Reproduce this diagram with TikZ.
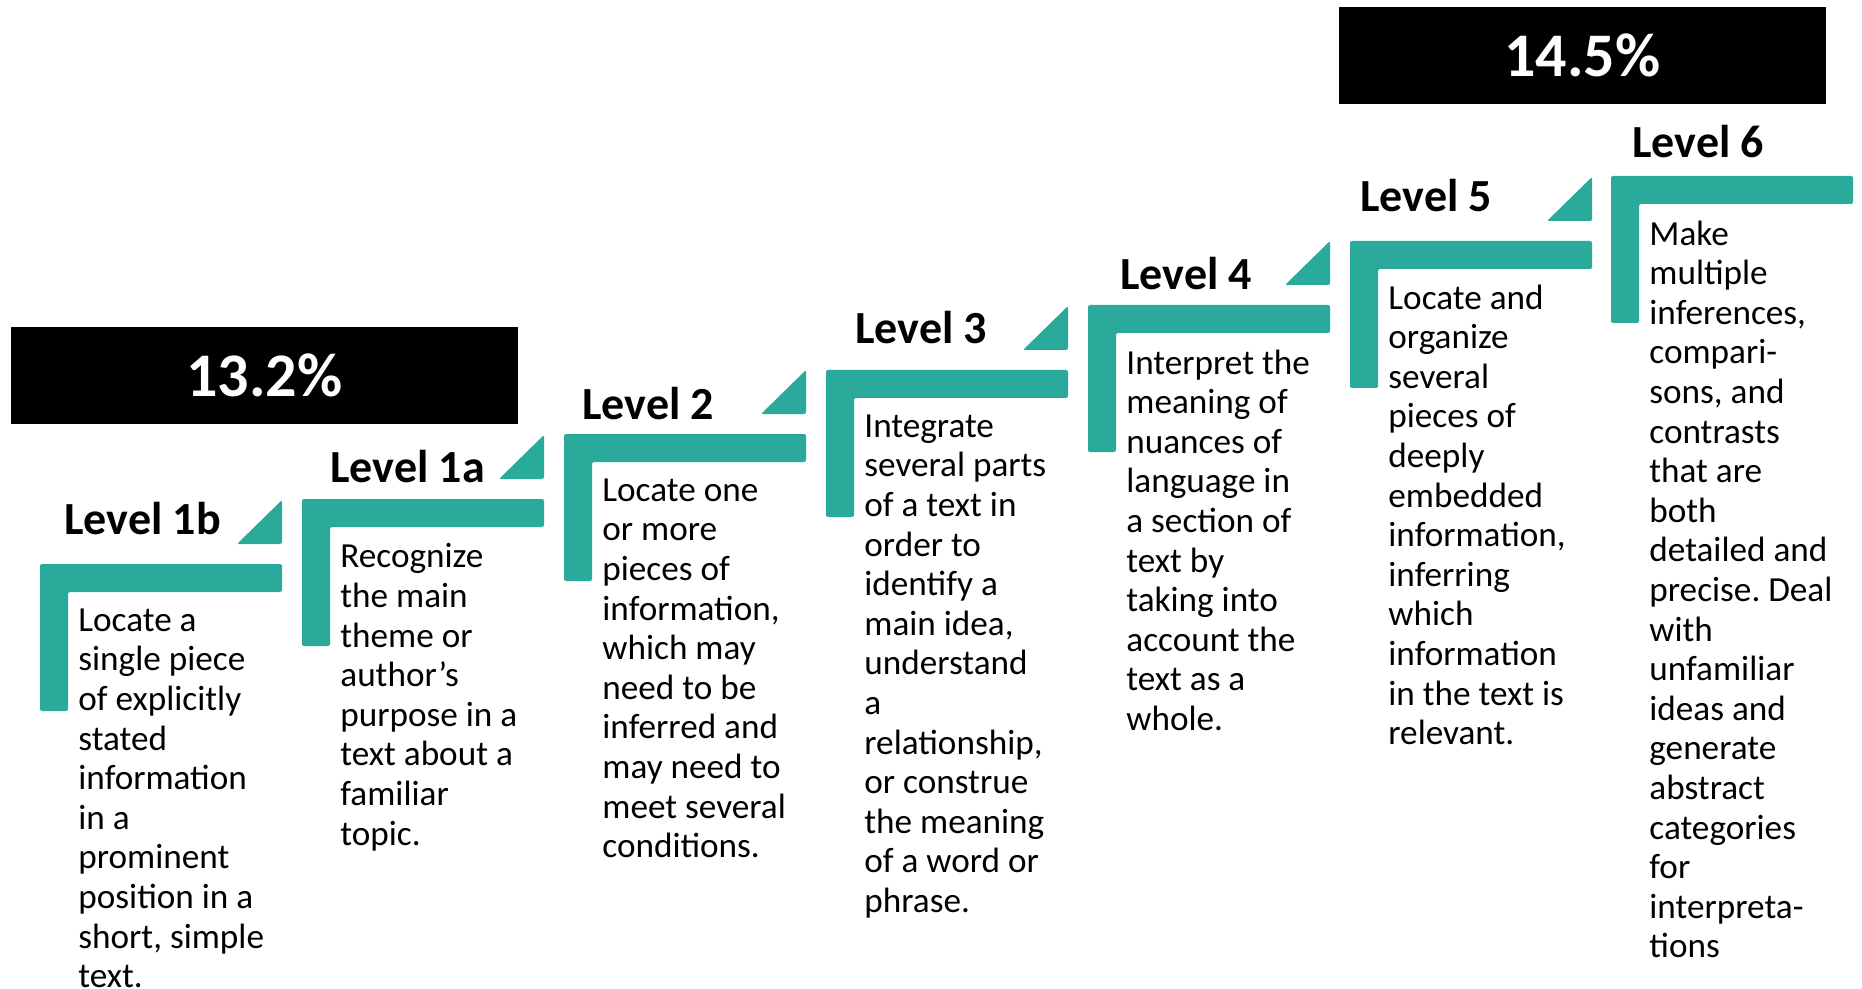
\documentclass[tikz,border=0pt]{standalone}
\usepackage{fontspec}
\setmainfont{Carlito}
\usepackage{tikz}
\frenchspacing
\definecolor{stairteal}{RGB}{42,170,154}
\tikzstyle{stair}=[fill=stairteal,rounded corners=1pt]
\tikzstyle{lvl}=[anchor=base west,inner sep=0pt,font=\bfseries\fontsize{23}{23}\selectfont]
\tikzstyle{desc}=[anchor=north west,inner sep=0pt,align=left,font=\fontsize{17.6}{19.8}\selectfont,execute at begin node=\strut]
\tikzstyle{share}=[fill=black,text=white,inner sep=0pt,minimum height=48.5pt,font=\bfseries\fontsize{31}{31}\selectfont]
% one step of the stair: bar left #1, bar top #2
\newcommand\stairbar[2]{\fill[stair] (#1,#2) -- ++(242,0) -- ++(0,28) -- ++(-214,0) -- ++(0,119) -- ++(-28,0) -- cycle;}
\newcommand\stairrise[2]{\fill[stair] ({#1+242},{#2-64}) -- ({#1+242},{#2-20}) -- ({#1+197},{#2-20}) -- cycle;}

\begin{document}
\begin{tikzpicture}[x=0.5pt,y=-0.5pt]
	\useasboundingbox (0,0) rectangle (1862,989);
	\node[share,minimum width=253.5pt] (pct1) at (264.5,375.5) {13.2\%};
	\node[share,minimum width=243.5pt] (pct2) at (1582.5,55.5) {14.5\%};
	\stairbar{40}{564}   \stairrise{40}{564}
	\stairbar{302}{499}  \stairrise{302}{499}
	\stairbar{564}{434}  \stairrise{564}{434}
	\stairbar{826}{370}  \stairrise{826}{370}
	\stairbar{1088}{305} \stairrise{1088}{305}
	\stairbar{1350}{241} \stairrise{1350}{241}
	\stairbar{1611}{176}
	\node[lvl] (l1b) at (64,534)   {Level 1b};
	\node[lvl] (l1a) at (330,482)  {Level 1a};
	\node[lvl] (l2)  at (582,420)  {Level 2};
	\node[lvl] (l3)  at (855,344)  {Level 3};
	\node[lvl] (l4)  at (1120,290) {Level 4};
	\node[lvl] (l5)  at (1360,212) {Level 5};
	\node[lvl] (l6)  at (1632,158) {Level 6};
	% first baselines sit 27.7 below the node tops
	\node[desc] (d1b) at (78,608.3) {Locate a\\single piece\\of explicitly\\stated\\information\\in a\\prominent\\position in a\\short, simple\\text.};
	\node[desc] (d1a) at (340,543.3) {Recognize\\the main\\theme or\\author’s\\purpose in a\\text about a\\familiar\\topic.};
	\node[desc] (d2)  at (602,478.3) {Locate one\\or more\\pieces of\\information,\\which may\\need to be\\inferred and\\may need to\\meet several\\conditions.};
	\node[desc] (d3)  at (864,414.3) {Integrate\\several parts\\of a text in\\order to\\identify a\\main idea,\\understand\\a\\relationship,\\or construe\\the meaning\\of a word or\\phrase.};
	\node[desc] (d4)  at (1126,349.3) {Interpret the\\meaning of\\nuances of\\language in\\a section of\\text by\\taking into\\account the\\text as a\\whole.};
	\node[desc] (d5)  at (1388,284.3) {Locate and\\organize\\several\\pieces of\\deeply\\embedded\\information,\\inferring\\which\\information\\in the text is\\relevant.};
	\node[desc] (d6)  at (1649,220.3) {Make\\multiple\\inferences,\\compari-\\sons, and\\contrasts\\that are\\both\\detailed and\\precise. Deal\\with\\unfamiliar\\ideas and\\generate\\abstract\\categories\\for\\interpreta-\\tions};
\end{tikzpicture}
\end{document}
